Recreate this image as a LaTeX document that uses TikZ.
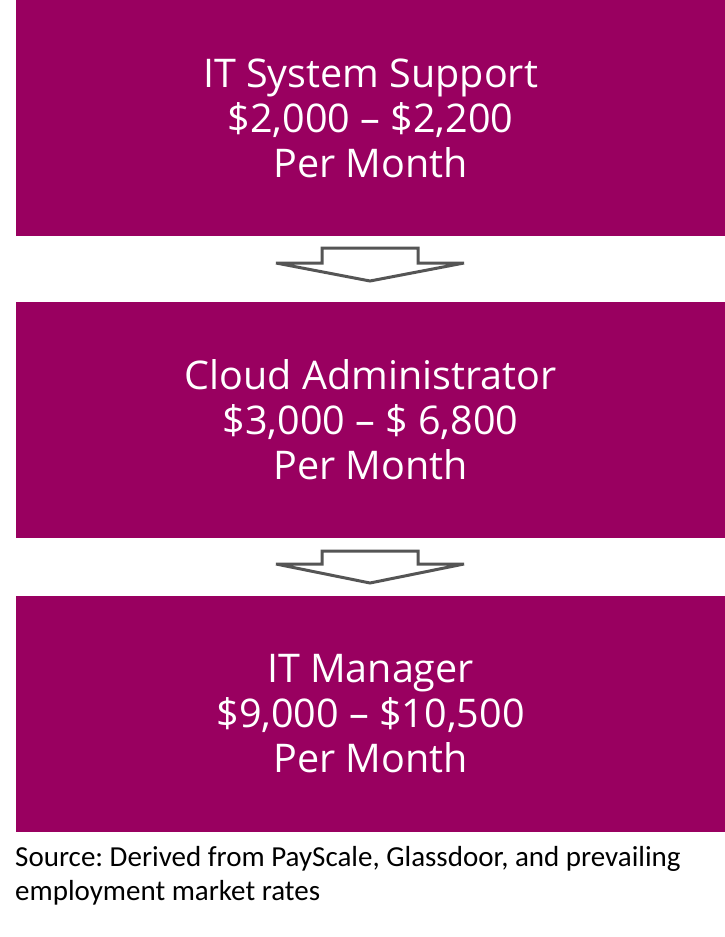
\documentclass[tikz,border=0pt]{standalone}
\usepackage{fontspec}
\setmainfont{Open Sans}
\newfontfamily\srcfont{Carlito}
\definecolor{boxmag}{RGB}{153,0,96}
\definecolor{arrgray}{RGB}{85,85,85}
\frenchspacing
\begin{document}
\begin{tikzpicture}[x=1pt,y=-1pt,
  salbox/.style={fill=boxmag,draw=none},
  saltext/.style={text=white,align=center,font=\fontsize{39.5}{45}\selectfont,inner sep=0pt},
  blockarrow/.style={draw=arrgray,line width=3pt,fill=white,line join=miter}]
\useasboundingbox (0,0) rectangle (725,937);
\fill[salbox] (16,0) rectangle (725,236);
\fill[salbox] (16,302) rectangle (725,538);
\fill[salbox] (16,596) rectangle (725,832);
\node[saltext] (b1) at (370.5,118) {IT System Support\\\$2,000 – \$2,200\\Per Month};
\node[saltext] (b2) at (370.5,420) {Cloud Administrator\\\$3,000 – \$ 6,800\\Per Month};
\node[saltext] (b3) at (370.5,714) {IT Manager\\\$9,000 – \$10,500\\Per Month};
\draw[blockarrow] (322,248) -- (418,248) -- (418,263) -- (464,263) -- (370,281) -- (276,263) -- (322,263) -- cycle;
\draw[blockarrow] (322,551) -- (418,551) -- (418,564) -- (464,564) -- (370,583) -- (276,564) -- (322,564) -- cycle;
\node[anchor=base west,inner sep=0pt,align=left,font=\srcfont\fontsize{29}{34}\selectfont] (src) at (15,900) {Source: Derived from PayScale, Glassdoor, and prevailing\\employment market rates};
\end{tikzpicture}
\end{document}
